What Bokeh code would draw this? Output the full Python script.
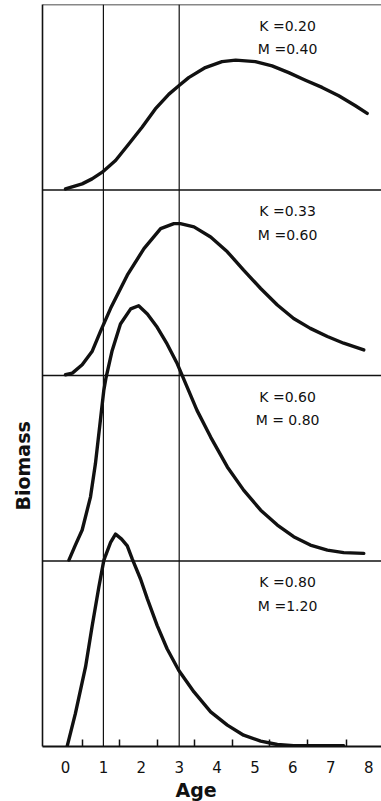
import numpy as np
from bokeh.plotting import figure
from bokeh.models import Span, Label, FixedTicker, Title
from bokeh.embed import file_html
from bokeh.resources import INLINE

# ---- data (age, biomass in panel units) ----
ages1 = [0.0, 0.44, 0.70, 0.97, 1.32, 1.67, 2.02, 2.37, 2.73, 2.99, 3.25, 3.69, 4.13,
         4.49, 5.01, 5.45, 5.89, 6.33, 6.77, 7.21, 7.65, 7.96]
bio1 = [0.006, 0.033, 0.060, 0.096, 0.159, 0.248, 0.338, 0.437, 0.517, 0.562, 0.606, 0.660, 0.692,
        0.700, 0.692, 0.669, 0.633, 0.592, 0.553, 0.508, 0.454, 0.413]

ages2 = [0.0, 0.18, 0.44, 0.70, 0.92, 1.19, 1.63, 2.07, 2.51, 2.86, 3.03, 3.39, 3.83,
         4.27, 4.70, 5.15, 5.59, 6.02, 6.46, 6.91, 7.34, 7.87]
bio2 = [0.004, 0.013, 0.058, 0.129, 0.237, 0.362, 0.541, 0.684, 0.792, 0.819, 0.819, 0.801, 0.747,
        0.667, 0.568, 0.469, 0.380, 0.307, 0.254, 0.210, 0.174, 0.138]

ages3 = [0.09, 0.26, 0.44, 0.66, 0.79, 0.92, 1.01, 1.07, 1.23, 1.45, 1.72, 1.93, 2.16, 2.42,
         2.68, 2.95, 3.21, 3.47, 3.83, 4.27, 4.70, 5.15, 5.59, 6.02, 6.46, 6.91, 7.34, 7.87]
bio3 = [0.005, 0.086, 0.167, 0.346, 0.525, 0.758, 0.919, 0.989, 1.134, 1.278, 1.359, 1.376, 1.332, 1.260,
        1.170, 1.063, 0.937, 0.812, 0.668, 0.507, 0.382, 0.274, 0.194, 0.131, 0.086, 0.059, 0.045, 0.041]

ages4 = [0.045, 0.26, 0.53, 0.70, 0.88, 1.01, 1.055, 1.19, 1.32, 1.48, 1.63, 1.76, 1.98, 2.16,
         2.42, 2.68, 2.99, 3.39, 3.83, 4.27, 4.70, 5.15, 5.59, 6.02, 7.34]
bio4 = [0.002, 0.177, 0.430, 0.645, 0.860, 1.002, 1.028, 1.100, 1.145, 1.118, 1.082, 1.011, 0.903, 0.796,
        0.652, 0.527, 0.410, 0.294, 0.187, 0.115, 0.061, 0.029, 0.011, 0.004, 0.004]

k_labels = ["K =0.20", "K =0.33", "K =0.60", "K =0.80"]
m_labels = ["M =0.40", "M =0.60", "M = 0.80", "M =1.20"]

tick_values = [0, 1, 2, 3, 4, 5, 6, 7, 8]
minor_tick_values = [0.45, 1.42, 2.43, 3.40, 4.41, 5.38, 6.38, 7.41]
marked_ages = [1, 3]

series = [(ages1, bio1), (ages2, bio2), (ages3, bio3), (ages4, bio4)]
n_panels = len(series)

# ---- figure ----
p = figure(width=381, height=801, x_range=(-0.607, 8.338), y_range=(0, n_panels),
           output_backend="svg", toolbar_location=None,
           min_border_left=42, min_border_right=0, min_border_top=4, min_border_bottom=53)
p.outline_line_color = None
p.xgrid.visible = False
p.ygrid.visible = False
p.background_fill_color = "white"
p.border_fill_color = "white"

ink = "#111111"

# x axis
p.xaxis.ticker = FixedTicker(ticks=tick_values, minor_ticks=minor_tick_values)
p.xaxis.axis_line_color = ink
p.xaxis.axis_line_width = 2
p.xaxis.major_tick_line_color = None
p.xaxis.minor_tick_line_color = ink
p.xaxis.minor_tick_line_width = 1.5
p.xaxis.minor_tick_in = 7
p.xaxis.minor_tick_out = 0
p.xaxis.major_label_standoff = 8
p.xaxis.major_label_text_font = "DejaVu Sans"
p.xaxis.major_label_text_font_size = "15px"
p.xaxis.major_label_text_color = ink

# y axis: only the line
p.yaxis.ticker = FixedTicker(ticks=[])
p.yaxis.axis_line_color = ink
p.yaxis.axis_line_width = 1.6
p.yaxis.major_tick_line_color = None
p.yaxis.minor_tick_line_color = None
p.yaxis.major_label_text_font_size = "0px"
p.yaxis.major_label_standoff = 0

# panel separators and top border
for i in range(1, n_panels + 1):
    p.add_layout(Span(location=i, dimension="width", line_color=ink, line_width=1.6))

# vertical reference lines
for a in marked_ages:
    p.add_layout(Span(location=a, dimension="height", line_color=ink, line_width=1.2))

# curves, stacked top to bottom
for idx, (ages, bio) in enumerate(series):
    offset = n_panels - 1 - idx
    p.line(ages, np.array(bio) + offset, line_color=ink, line_width=3.4,
           line_join="round", line_cap="round")
    top = offset + 1
    p.add_layout(Label(x=5.86, y=top - 0.115, text=k_labels[idx], text_align="center",
                       text_baseline="middle", text_font="DejaVu Sans",
                       text_font_size="14px", text_color=ink))
    p.add_layout(Label(x=5.86, y=top - 0.24, text=m_labels[idx], text_align="center",
                       text_baseline="middle", text_font="DejaVu Sans",
                       text_font_size="14px", text_color=ink))

# axis titles as side titles (allow off-centre placement)
p.add_layout(Title(text="Age", align="left", offset=133, text_font="DejaVu Sans",
                   text_font_style="bold", text_font_size="19px", text_color=ink,
                   standoff=2), "below")
p.add_layout(Title(text="Biomass", align="left", offset=236, text_font="DejaVu Sans",
                   text_font_style="bold", text_font_size="19px", text_color=ink,
                   standoff=14, vertical_align="top"), "left")

open("out.html", "w").write(file_html(p, INLINE))
